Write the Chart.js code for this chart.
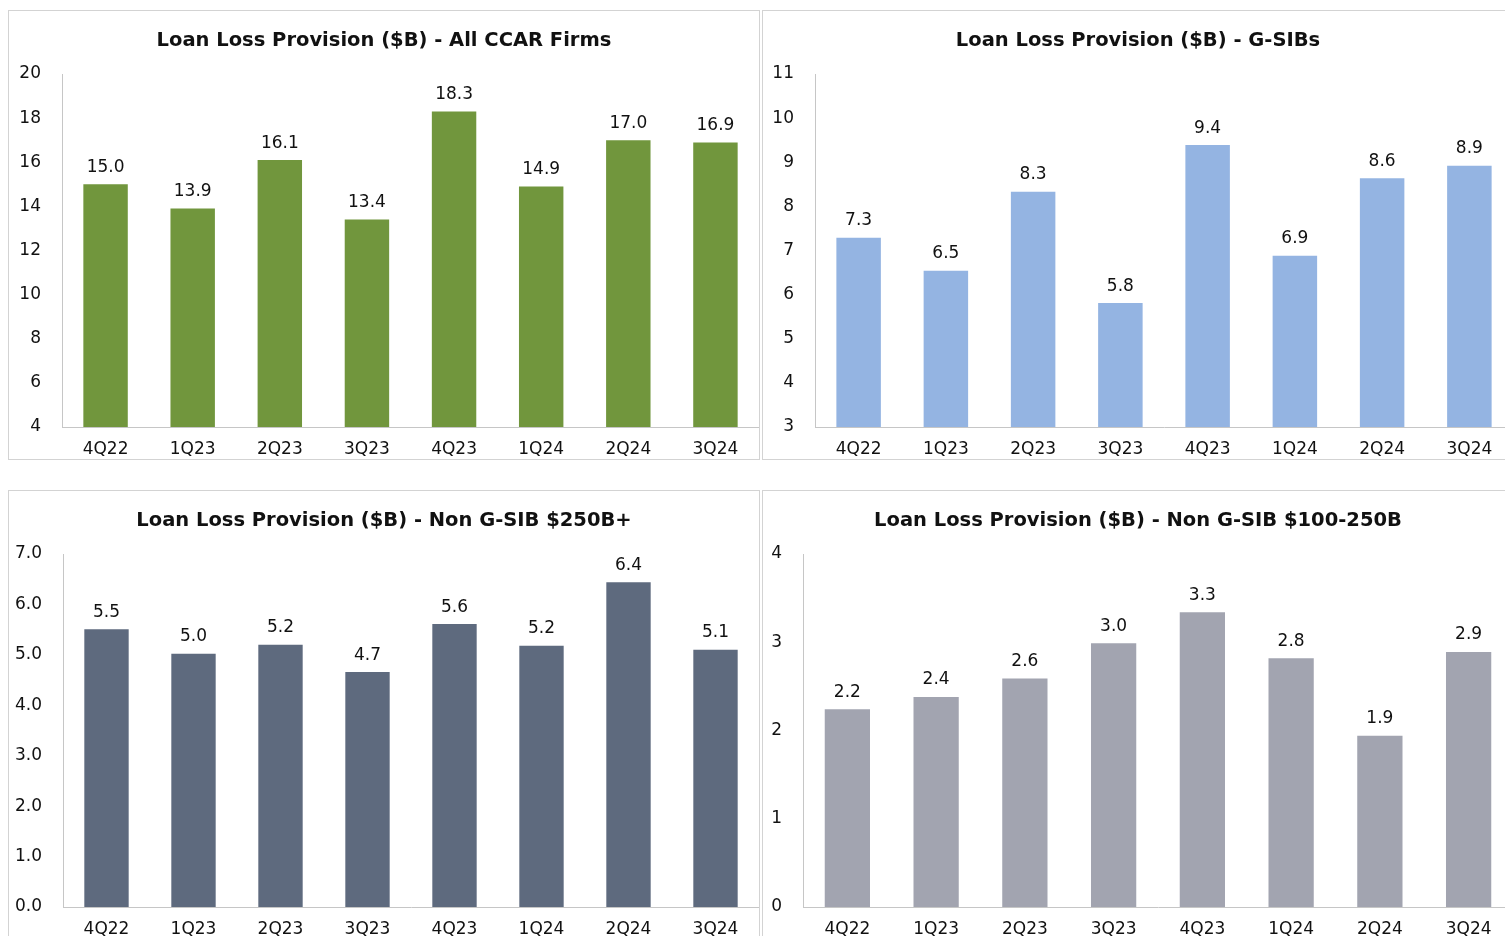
<!DOCTYPE html>
<html>
<head>
<meta charset="utf-8">
<script src="https://cdn.jsdelivr.net/npm/chart.js@4"></script>
<style>
  html, body { margin: 0; padding: 0; background: #fff; overflow: hidden; width: 1505px; height: 936px; }
  .panel { position: absolute; border: 1px solid #d3d3d3; width: 750px; height: 448px; background: #fff; }
  .panel canvas { display: block; }
</style>
</head>
<body>
<div class="panel" style="left:8px; top:10px;"><canvas id="c1" width="750" height="448"></canvas></div>
<div class="panel" style="left:762px; top:10px;"><canvas id="c2" width="750" height="448"></canvas></div>
<div class="panel" style="left:8px; top:490px;"><canvas id="c3" width="750" height="448"></canvas></div>
<div class="panel" style="left:762px; top:490px;"><canvas id="c4" width="750" height="448"></canvas></div>
<script>
// ---- data ----
const quarters = ['4Q22', '1Q23', '2Q23', '3Q23', '4Q23', '1Q24', '2Q24', '3Q24'];

const titleAll = 'Loan Loss Provision ($B) - All CCAR Firms';
const titleGsib = 'Loan Loss Provision ($B) - G-SIBs';
const titleNon250 = 'Loan Loss Provision ($B) - Non G-SIB $250B+';
const titleNon100 = 'Loan Loss Provision ($B) - Non G-SIB $100-250B';

const allCcar = [15.0, 13.9, 16.1, 13.4, 18.3, 14.9, 17.0, 16.9];
const gsibs = [7.29, 6.54, 8.33, 5.81, 9.39, 6.88, 8.64, 8.92];
const nonGsib250 = [5.51, 5.02, 5.20, 4.66, 5.61, 5.18, 6.44, 5.10];
const nonGsib100 = [2.24, 2.38, 2.59, 2.99, 3.34, 2.82, 1.94, 2.89];

const allTicks = [4, 20, 2];     // min, max, step
const gsibTicks = [3, 11, 1];
const non250Ticks = [0, 7, 1];
const non100Ticks = [0, 4, 1];

// ---- styling ----
const FONT = '"DejaVu Sans", "Liberation Sans", Arial, sans-serif';
const AXIS_COLOR = '#c6c6c6';
const TEXT_COLOR = '#111111';

const valueLabels = {
  id: 'valueLabels',
  afterDatasetsDraw(chart) {
    const ctx = chart.ctx;
    ctx.save();
    ctx.font = '17px ' + FONT;
    ctx.fillStyle = TEXT_COLOR;
    ctx.textAlign = 'center';
    ctx.textBaseline = 'alphabetic';
    chart.data.datasets.forEach((ds, di) => {
      chart.getDatasetMeta(di).data.forEach((bar, i) => {
        ctx.fillText(Number(ds.data[i]).toFixed(1), bar.x, bar.y - 12.5);
      });
    });
    ctx.restore();
  }
};

function makeChart(id, title, values, color, ticks, yWidth, decimals) {
  return new Chart(document.getElementById(id), {
    type: 'bar',
    data: {
      labels: quarters,
      datasets: [{
        data: values,
        backgroundColor: color,
        borderWidth: 0,
        categoryPercentage: 1.0,
        barPercentage: 0.51
      }]
    },
    options: {
      responsive: false,
      animation: false,
      devicePixelRatio: 1,
      layout: { padding: 0 },
      plugins: {
        legend: { display: false },
        tooltip: { enabled: false },
        title: {
          display: true,
          text: title,
          color: TEXT_COLOR,
          font: { family: FONT, size: 19.5, weight: 'bold', lineHeight: 1.2 },
          padding: { top: 18.3, bottom: 21.3 }
        }
      },
      scales: {
        x: {
          grid: { display: false, drawTicks: false },
          border: { display: true, color: AXIS_COLOR, width: 1 },
          afterFit(scale) { scale.height = 32; },
          ticks: {
            color: TEXT_COLOR,
            font: { family: FONT, size: 17, lineHeight: 1.2 },
            padding: 12,
            maxRotation: 0,
            autoSkip: false
          }
        },
        y: {
          min: ticks[0],
          max: ticks[1],
          grid: { display: false, drawTicks: false },
          border: { display: true, color: AXIS_COLOR, width: 1 },
          afterFit(scale) { scale.width = yWidth; },
          ticks: {
            stepSize: ticks[2],
            color: TEXT_COLOR,
            font: { family: FONT, size: 17, lineHeight: 1.2 },
            padding: 21,
            callback: (v) => Number(v).toFixed(decimals)
          }
        }
      }
    },
    plugins: [valueLabels]
  });
}

makeChart('c1', titleAll, allCcar, '#71963d', allTicks, 53, 0);
makeChart('c2', titleGsib, gsibs, '#94b4e2', gsibTicks, 52, 0);
makeChart('c3', titleNon250, nonGsib250, '#5e6a7e', non250Ticks, 54, 1);
makeChart('c4', titleNon100, nonGsib100, '#a2a4b0', non100Ticks, 40, 0);
</script>
</body>
</html>
